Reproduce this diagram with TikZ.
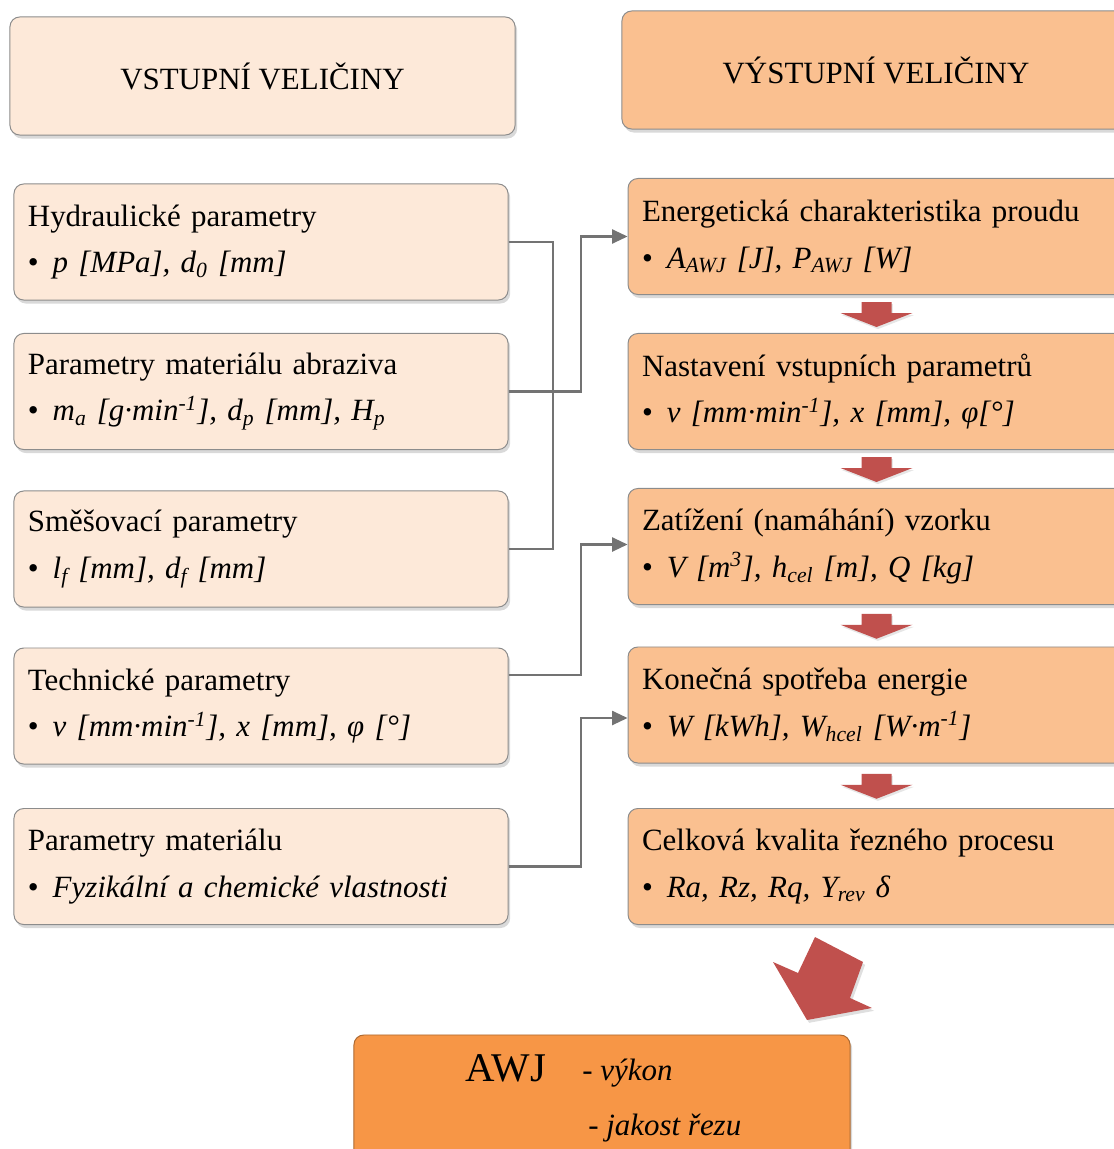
\documentclass[tikz,border=0pt]{standalone}
\usepackage{fontspec}
\setmainfont{Liberation Serif}
\usetikzlibrary{arrows.meta,calc,shadows}
\definecolor{inlight}{HTML}{FDE9D9}
\definecolor{outtan}{HTML}{FAC090}
\definecolor{awjorange}{HTML}{F79646}
\definecolor{arrowred}{HTML}{C0504D}
\definecolor{linegray}{HTML}{737373}
\definecolor{boxline}{HTML}{8C8C8C}
\newcommand{\itm}[1]{\textbullet\hspace{0.45em}\textit{#1}}
\tikzset{
  box/.style={draw=boxline, line width=0.7pt, rounded corners=7pt,
    font=\fontsize{22}{33}\selectfont,
    drop shadow={opacity=0.3, shadow xshift=1.5pt, shadow yshift=-2.5pt}},
  inbox/.style={box, fill=inlight, align=left, inner xsep=0.35cm,
    text width=11.65cm, minimum height=2.9cm},
  outbox/.style={box, fill=outtan, align=left, inner xsep=0.35cm,
    text width=11.72cm, minimum height=2.9cm},
  headbox/.style={box, align=center, minimum height=2.95cm},
  awjtext/.style={inner sep=0pt, anchor=west, font=\fontsize{22}{27}\selectfont\itshape},
  link/.style={draw=linegray, line width=1.5pt},
  linkarrow/.style={link, -{Triangle[length=11pt,width=10pt]}},
  downarr/.pic={
    \fill[arrowred, drop shadow={opacity=0.2, shadow xshift=1pt, shadow yshift=-1.5pt}]
      (-15,-12) -- (15,-12) -- (15,-1) -- (36,-1) -- (0,13) -- (-36,-1) -- (-15,-1) -- cycle;
  }
}
\begin{document}
\begin{tikzpicture}[x=0.025cm, y=-0.025cm]
  \useasboundingbox (0,0) rectangle (1113,1149);
  % headers
  \node[headbox, fill=inlight, minimum width=12.625cm] (vstup) at (262.5,76) {VSTUPNÍ VELIČINY};
  \node[headbox, fill=outtan, minimum width=12.7cm] (vystup) at (876,70) {VÝSTUPNÍ VELIČINY};
  % input quantities
  \node[inbox] (h1) at (261,242) {Hydraulické parametry\\ \itm{p [MPa], d\textsubscript{0} [mm]}};
  \node[inbox] (h2) at (261,391.5) {Parametry materiálu abraziva\\ \itm{m\textsubscript{a} [g·min\textsuperscript{-1}], d\textsubscript{p} [mm], H\textsubscript{p}}};
  \node[inbox] (h3) at (261,549) {Směšovací parametry\\ \itm{l\textsubscript{f} [mm], d\textsubscript{f} [mm]}};
  \node[inbox] (h4) at (261,706) {Technické parametry\\ \itm{v [mm·min\textsuperscript{-1}], x [mm], φ [°]}};
  \node[inbox] (h5) at (261,866.5) {Parametry materiálu\\ \itm{Fyzikální a chemické vlastnosti}};
  % output quantities
  \node[outbox] (r1) at (876.5,236.5) {Energetická charakteristika proudu\\ \itm{A\textsubscript{AWJ} [J], P\textsubscript{AWJ} [W]}};
  \node[outbox] (r2) at (876.5,391.5) {Nastavení vstupních parametrů\\ \itm{v [mm·min\textsuperscript{-1}], x [mm], φ[°]}};
  \node[outbox] (r3) at (876.5,546.5) {Zatížení (namáhání) vzorku\\ \itm{V [m\textsuperscript{3}], h\textsubscript{cel} [m], Q [kg]}};
  \node[outbox] (r4) at (876.5,705) {Konečná spotřeba energie\\ \itm{W [kWh], W\textsubscript{hcel} [W·m\textsuperscript{-1}]}};
  \node[outbox] (r5) at (876.5,866.5) {Celková kvalita řezného procesu\\ \itm{Ra, Rz, Rq, Y\textsubscript{rev} δ}};
  % result
  \node[box, fill=awjorange, draw=awjorange!70!black, minimum width=12.4cm, minimum height=3.25cm] (awj) at (602,1100) {};
  \node[inner sep=0pt, font=\fontsize{29}{33}\selectfont] (awjname) at (506,1068) {AWJ};
  \node[awjtext] (vykon) at (582,1073) {- výkon};
  \node[awjtext] (jakost) at (588,1128) {- jakost řezu};
  % connectors
  \draw[link] (h1.east) -- ++(44,0) |- (h3.east);
  \draw[linkarrow] (h2.east) -- ++(72,0) |- (r1.west);
  \draw[linkarrow] ($(h4.east)+(0,-31)$) -- ++(72,0) |- ($(r3.west)+(0,-2)$);
  \draw[linkarrow] (h5.east) -- ++(72,0) |- ($(r4.west)+(0,13)$);
  \foreach \a/\b in {r1/r2,r2/r3,r3/r4,r4/r5}
    \pic at ($(\a.south)!0.5!(\b.north)$) {downarr};
  \fill[arrowred, drop shadow={opacity=0.25, shadow xshift=1.5pt, shadow yshift=-2pt}]
    (815,937) -- (863,962) -- (850,998) -- (872,1008) -- (807,1020)
    -- (773,962) -- (798,973) -- cycle;
\end{tikzpicture}
\end{document}
